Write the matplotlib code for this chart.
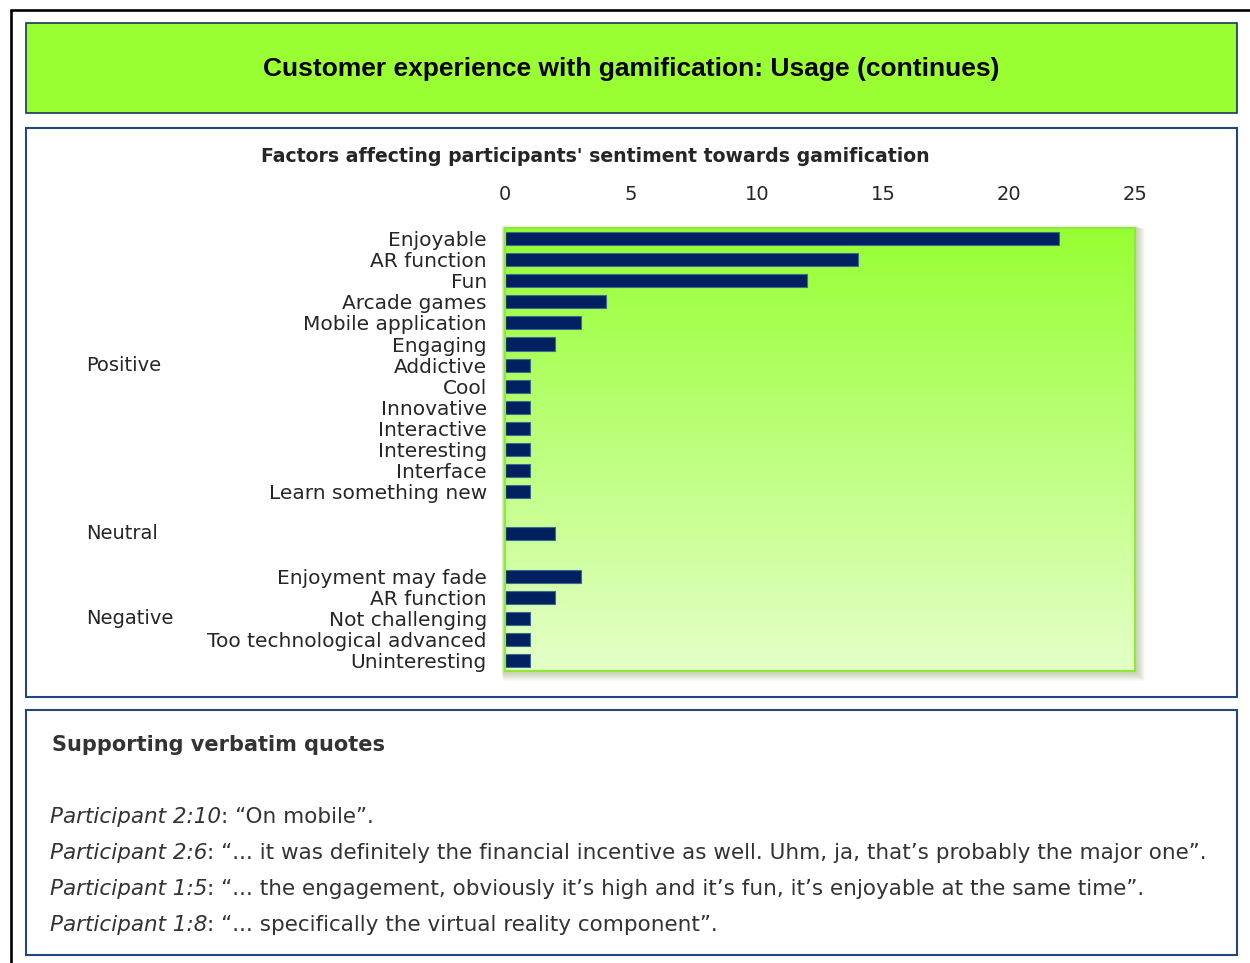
import matplotlib
matplotlib.use("Agg")
import matplotlib.pyplot as plt
import numpy as np
from matplotlib.patches import Rectangle
from matplotlib.transforms import blended_transform_factory

# data
positive_labels = ["Enjoyable", "AR function", "Fun", "Arcade games", "Mobile application",
                   "Engaging", "Addictive", "Cool", "Innovative", "Interactive",
                   "Interesting", "Interface", "Learn something new"]
positive_values = [22, 14, 12, 4, 3, 2, 1, 1, 1, 1, 1, 1, 1]
neutral_labels = [""]
neutral_values = [2]
negative_labels = ["Enjoyment may fade", "AR function", "Not challenging",
                   "Too technological advanced", "Uninteresting"]
negative_values = [3, 2, 1, 1, 1]
group_names = ["Positive", "Neutral", "Negative"]
x_ticks = [0, 5, 10, 15, 20, 25]

title = "Customer experience with gamification: Usage (continues)"
chart_title = "Factors affecting participants' sentiment towards gamification"
quotes_title = "Supporting verbatim quotes"
quote_who = ["Participant 2:10", "Participant 2:6", "Participant 1:5", "Participant 1:8"]
quote_text = [": \u201cOn mobile\u201d.",
              ": \u201c... it was definitely the financial incentive as well. Uhm, ja, that\u2019s probably the major one\u201d.",
              ": \u201c... the engagement, obviously it\u2019s high and it\u2019s fun, it\u2019s enjoyable at the same time\u201d.",
              ": \u201c... specifically the virtual reality component\u201d."]

W, H = 1250, 963
fig = plt.figure(figsize=(W / 100, H / 100), dpi=100)


def fbox(x0, y0, x1, y1):
    # pixel box (top-left origin) -> figure coords
    return (x0 / W, 1 - y1 / H, (x1 - x0) / W, (y1 - y0) / H)


def add_rect(x0, y0, x1, y1, **kw):
    l, b, w, h = fbox(x0, y0, x1, y1)
    r = Rectangle((l, b), w, h, transform=fig.transFigure, **kw)
    fig.patches.append(r)
    return r


# frames
add_rect(11, 10, 1265, 980, facecolor="none", edgecolor="black", lw=1.9, zorder=-3)
add_rect(26, 23, 1237, 113, facecolor="#99FF33", edgecolor="#17375E", lw=1.2, zorder=-2)
add_rect(26, 128, 1237, 697, facecolor="white", edgecolor="#1F497D", lw=1.5, zorder=-2)
add_rect(26, 710, 1237, 955, facecolor="white", edgecolor="#1F497D", lw=1.5, zorder=-2)

# soft shadow behind the plot area
for i in range(8):
    d = i + 1
    add_rect(505 - 4 + d * 0.3, 228 - 3 + d * 0.5, 1135 + 2 + d, 671 + 2 + d,
             facecolor="#8a9a60", edgecolor="none", alpha=0.06, zorder=-1)

fig.text(631 / W, 1 - 69 / H, title, ha="center", va="center",
         fontsize=19, fontweight="bold", family="Liberation Sans", color="black")
fig.text(595 / W, 1 - 157 / H, chart_title, ha="center", va="center",
         fontsize=13.6, fontweight="bold", family="DejaVu Sans", color="#262626")

# build rows with spacers
labels = positive_labels + [""] + neutral_labels + [""] + negative_labels
values = positive_values + [np.nan] + neutral_values + [np.nan] + negative_values
rows = np.arange(len(labels))
group_rows = [np.mean(rows[:len(positive_labels)]),
              len(positive_labels) + 1,
              np.mean(rows[-len(negative_labels):])]

ax = fig.add_axes(fbox(505, 228, 1135, 671))
ax.set_xlim(0, 25)
ax.set_ylim(len(labels) - 0.5, -0.5)

top = np.array([150, 255, 50]) / 255
bot = np.array([228, 255, 200]) / 255
t = np.linspace(0, 1, 256)[:, None]
grad = (top * (1 - t) + bot * t)[:, None, :]
ax.imshow(grad, extent=[0, 25, len(labels) - 0.5, -0.5], aspect="auto", zorder=0)

ax.barh(rows, values, height=0.62, color="#002060", edgecolor="#3b6a95", lw=0.8, zorder=2)

ax.xaxis.tick_top()
ax.set_xticks(x_ticks)
ax.set_yticks(rows)
ax.set_yticklabels(labels)
ax.tick_params(axis="x", length=0, pad=17, labelsize=14, labelcolor="#262626")
ax.tick_params(axis="y", length=0, pad=13, labelsize=14.5, labelcolor="#262626")
for s in ax.spines.values():
    s.set_color("#8FE83A")
    s.set_linewidth(1.6)

tr = blended_transform_factory(fig.transFigure, ax.transData)
for name, r in zip(group_names, group_rows):
    ax.text(86 / W, r, name, transform=tr, ha="left", va="center",
            fontsize=14, color="#262626")

# quotes
fig.text(52 / W, 1 - 745 / H, quotes_title, ha="left", va="center",
         fontsize=15, fontweight="bold", family="DejaVu Sans", color="#333333")
renderer = fig.canvas.get_renderer()
for i, (who, txt) in enumerate(zip(quote_who, quote_text)):
    y = 1 - (817 + 36 * i) / H
    t1 = fig.text(50 / W, y, who, ha="left", va="center", fontsize=15.5,
                  style="italic", color="#333333")
    bb = t1.get_window_extent(renderer)
    fig.text(bb.x1 / W, y, txt, ha="left", va="center", fontsize=15.5, color="#333333")

fig.savefig("out.png", dpi=100)
